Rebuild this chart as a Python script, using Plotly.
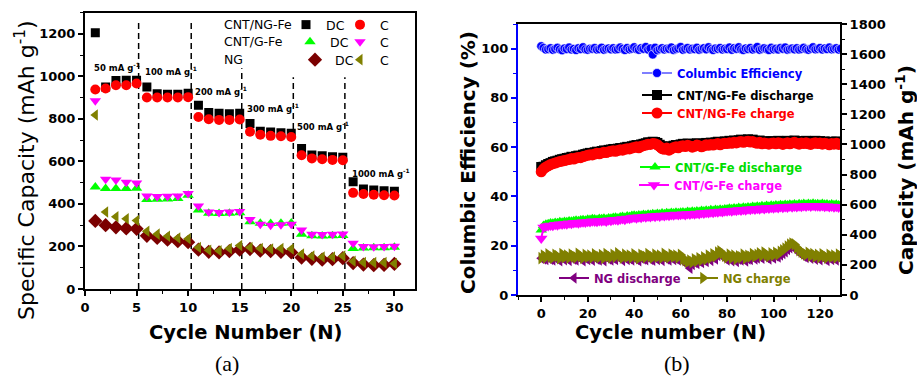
import plotly.graph_objects as go

W, H = 917, 376
SANS = "DejaVu Sans, Liberation Sans, sans-serif"
SERIF = "Liberation Serif, Times New Roman, serif"

# ---------------- Panel (a): rate capability ----------------
cycles_a = list(range(1, 31))
ngfe_dc = [1205, 950, 980, 982, 982, 950, 918, 916, 916, 920, 864, 830, 826, 824, 826,
           778, 742, 738, 735, 732, 661, 630, 626, 622, 620, 504, 470, 465, 462, 460]
ngfe_c = [938, 943, 958, 958, 966, 900, 900, 900, 900, 902, 809, 798, 795, 795, 797,
          739, 725, 720, 718, 715, 629, 614, 610, 607, 605, 452, 447, 443, 441, 440]
gfe_dc = [480, 473, 473, 472, 474, 421, 422, 423, 425, 441, 371, 356, 355, 356, 358,
          316, 309, 308, 309, 310, 257, 250, 249, 250, 252, 191, 193, 194, 194, 196]
gfe_c = [885, 516, 512, 502, 498, 437, 435, 436, 437, 449, 390, 362, 360, 362, 364,
         327, 305, 300, 302, 304, 277, 258, 256, 257, 259, 215, 200, 199, 200, 201]
ng_dc = [320, 300, 290, 285, 283, 250, 240, 232, 225, 220, 185, 175, 172, 178, 185,
         188, 180, 178, 175, 172, 148, 142, 138, 140, 145, 122, 115, 112, 113, 118]
ng_c = [818, 362, 340, 330, 322, 272, 258, 248, 240, 236, 195, 182, 180, 190, 205,
        195, 190, 188, 190, 188, 165, 155, 150, 150, 155, 130, 125, 124, 124, 120]

rate_labels = ["50 mA g<sup>-1</sup>", "100 mA g<sup>-1</sup>", "200 mA g<sup>-1</sup>",
               "300 mA g<sup>-1</sup>", "500 mA g<sup>-1</sup>", "1000 mA g<sup>-1</sup>"]
rate_bounds = [5.2, 10.3, 15.2, 20.2, 25.2]
rate_bound_tops = [1265, 1270, 1038, 996, 996]

# ---------------- Panel (b): long cycling ----------------
cycles_b = list(range(0, 130))
ce = [101.0, 100.3, 99.6, 99.8, 100.2, 99.5, 99.9, 100.4, 99.7, 99.3,
      100.1, 99.8, 100.5, 99.6, 99.9, 99.4, 100.2, 99.8, 100.6, 99.7,
      99.5, 100.0, 99.9, 100.3, 99.6, 99.8, 100.4, 99.5, 99.9, 100.1,
      99.7, 100.2, 99.6, 99.8, 100.5, 99.9, 99.4, 100.3, 99.7, 100.0,
      100.6, 99.8, 99.5, 100.2, 99.9, 100.7, 99.6, 100.1, 97.6, 100.4,
      99.3, 99.8, 100.2, 99.6, 100.0, 99.9, 100.5, 99.4, 99.8, 100.1,
      100.7, 99.5, 99.9, 100.3, 99.6, 100.0, 99.8, 100.4, 99.5, 99.9,
      100.2, 99.7, 100.6, 99.8, 99.4, 100.1, 99.9, 100.3, 99.6, 100.0,
      99.8, 100.5, 99.5, 100.2, 99.9, 100.6, 99.7, 99.4, 100.1, 99.8,
      100.3, 99.6, 100.0, 100.7, 99.5, 99.9, 100.2, 99.8, 99.4, 100.4,
      99.7, 100.0, 99.6, 100.3, 99.9, 100.5, 99.5, 99.8, 100.1, 99.7,
      100.2, 99.6, 99.9, 100.4, 99.8, 99.5, 100.0, 100.6, 99.7, 99.9,
      100.3, 99.6, 100.1, 99.8, 100.5, 99.7, 99.9, 100.2, 99.6, 100.0]
b_ngfe_dis = [850, 852, 862, 870, 876, 884, 888, 892, 898, 902,
              905, 910, 912, 918, 916, 922, 926, 924, 932, 936,
              940, 944, 942, 948, 952, 950, 956, 960, 958, 964,
              966, 970, 966, 972, 976, 974, 980, 984, 982, 988,
              992, 996, 990, 1000, 1004, 1008, 1014, 1012, 1018, 1016,
              1010, 998, 986, 980, 988, 976, 984, 992, 996, 990,
              1000, 1004, 998, 1006, 1002, 994, 1000, 1008, 1004, 996,
              1002, 1010, 1006, 1012, 1008, 1014, 1018, 1010, 1016, 1020,
              1018, 1024, 1020, 1026, 1022, 1028, 1032, 1026, 1030, 1034,
              1028, 1032, 1024, 1020, 1026, 1016, 1022, 1018, 1014, 1020,
              1022, 1016, 1024, 1020, 1012, 1018, 1024, 1016, 1022, 1026,
              1020, 1014, 1022, 1018, 1024, 1016, 1012, 1020, 1024, 1018,
              1022, 1014, 1020, 1016, 1010, 1018, 1014, 1020, 1012, 1016]
b_ngfe_ch = [818, 838, 850, 858, 866, 872, 876, 882, 886, 890,
             893, 897, 900, 906, 903, 910, 914, 912, 920, 924,
             928, 932, 930, 936, 941, 938, 944, 948, 946, 952,
             955, 958, 954, 960, 965, 962, 968, 972, 970, 976,
             980, 984, 978, 988, 992, 996, 1002, 1000, 1006, 1004,
             998, 985, 972, 968, 976, 962, 970, 980, 984, 978,
             988, 992, 986, 994, 990, 982, 988, 996, 992, 984,
             990, 998, 994, 1000, 996, 1002, 1006, 998, 1004, 1008,
             1006, 1012, 1008, 1014, 1010, 1016, 1020, 1014, 1018, 1022,
             1016, 1020, 1012, 1008, 1014, 1004, 1010, 1006, 1002, 1008,
             1010, 1004, 1012, 1008, 1000, 1006, 1012, 1004, 1010, 1014,
             1008, 1002, 1010, 1006, 1012, 1004, 1000, 1008, 1012, 1006,
             1010, 1002, 1008, 1004, 998, 1006, 1002, 1008, 1000, 1004]
b_gfe_dis = [432, 462, 470, 473, 478, 476, 482, 480, 486, 484,
             488, 486, 492, 490, 494, 496, 493, 498, 500, 497,
             503, 501, 506, 504, 502, 508, 506, 510, 505, 512,
             509, 514, 516, 512, 518, 521, 516, 524, 522, 528,
             530, 526, 532, 529, 535, 532, 537, 534, 540, 536,
             542, 538, 544, 540, 546, 543, 548, 545, 550, 547,
             549, 552, 548, 554, 551, 556, 553, 558, 554, 561,
             558, 563, 560, 566, 562, 568, 565, 570, 567, 572,
             572, 576, 573, 578, 575, 581, 577, 583, 579, 585,
             582, 587, 584, 589, 586, 592, 588, 594, 590, 596,
             592, 598, 594, 600, 596, 601, 597, 603, 599, 604,
             600, 606, 602, 607, 603, 608, 604, 609, 605, 606,
             603, 607, 602, 605, 600, 604, 599, 602, 598, 601]
b_gfe_ch = [376, 448, 455, 458, 462, 460, 466, 464, 470, 468,
            472, 470, 476, 474, 478, 480, 477, 482, 484, 481,
            487, 485, 490, 488, 486, 492, 490, 494, 489, 496,
            493, 498, 500, 496, 502, 505, 500, 508, 506, 512,
            514, 510, 516, 513, 519, 516, 521, 518, 524, 520,
            526, 522, 528, 524, 530, 527, 532, 529, 534, 531,
            533, 536, 532, 538, 535, 540, 537, 542, 538, 545,
            542, 547, 544, 550, 546, 552, 549, 554, 551, 556,
            556, 560, 557, 562, 559, 565, 561, 567, 563, 569,
            566, 571, 568, 573, 570, 576, 572, 578, 574, 580,
            576, 582, 578, 584, 580, 585, 581, 587, 583, 588,
            584, 590, 586, 591, 587, 592, 588, 593, 589, 590,
            587, 591, 586, 589, 584, 588, 583, 586, 582, 585]
b_ng_dis = [244, 240, 236, 248, 238, 232, 246, 240, 228, 250,
            234, 242, 230, 248, 238, 232, 252, 240, 228, 246,
            236, 242, 231, 250, 238, 233, 246, 228, 252, 240,
            232, 246, 236, 254, 242, 230, 248, 236, 242, 232,
            250, 238, 228, 246, 240, 234, 252, 238, 231, 248,
            236, 242, 230, 254, 240, 233, 248, 236, 242, 232,
            246, 224, 214, 200, 178, 202, 218, 210, 226, 216,
            232, 222, 244, 230, 250, 240, 262, 270, 258, 244,
            232, 248, 228, 242, 222, 238, 232, 248, 226, 240,
            236, 252, 240, 246, 256, 244, 262, 250, 240, 256,
            246, 260, 252, 266, 276, 288, 302, 314, 322, 316,
            298, 280, 270, 258, 250, 262, 244, 254, 238, 248,
            234, 252, 240, 230, 248, 236, 244, 232, 250, 238]
b_ng_ch = [245, 262, 250, 270, 255, 248, 266, 258, 244, 272,
           252, 262, 248, 268, 256, 250, 274, 258, 246, 266,
           254, 262, 249, 270, 257, 251, 265, 246, 272, 258,
           250, 266, 255, 276, 260, 248, 268, 254, 262, 250,
           270, 256, 245, 266, 259, 252, 272, 257, 249, 268,
           255, 262, 248, 274, 258, 251, 268, 256, 262, 250,
           266, 240, 232, 222, 228, 218, 236, 226, 244, 232,
           250, 238, 262, 248, 270, 258, 282, 290, 276, 262,
           250, 268, 246, 262, 240, 256, 250, 268, 244, 260,
           254, 272, 258, 266, 276, 262, 282, 268, 258, 276,
           264, 280, 270, 286, 296, 308, 322, 334, 342, 336,
           316, 298, 288, 276, 268, 280, 262, 272, 256, 266,
           252, 270, 258, 248, 266, 254, 262, 250, 268, 256]


def px(x):
    return x / W


def py(y):
    return 1 - y / H


fig = go.Figure()

# ---- panel (a) traces, each with its own legend entry ----
a_series = [
    (ngfe_dc, "DC", "square", "#000000", 9, "legend"),
    (ngfe_c, "C", "circle", "#FF0000", 10, "legend2"),
    (gfe_dc, "DC", "triangle-up", "#00FF00", 10, "legend3"),
    (gfe_c, "C", "triangle-down", "#FF00FF", 10, "legend4"),
    (ng_dc, "DC", "diamond", "#7B0000", 11, "legend5"),
    (ng_c, "C", "triangle-left", "#808000", 10, "legend6"),
]
for vals, name, sym, col, size, lg in a_series:
    fig.add_trace(go.Scatter(
        x=cycles_a, y=vals, mode="markers", name=name, legend=lg,
        marker=dict(symbol=sym, color=col, size=size, line=dict(width=0)),
        xaxis="x", yaxis="y"))

# ---- panel (b) traces ----
fig.add_trace(go.Scatter(
    x=cycles_b, y=ce, mode="lines+markers", name="Columbic Efficiency", legend="legend7",
    line=dict(color="#0000FF", width=1.2),
    marker=dict(symbol="circle", color="#0000FF", size=9, line=dict(color="white", width=0.6)),
    xaxis="x2", yaxis="y2"))
b_series = [
    (b_ngfe_dis, "CNT/NG-Fe discharge", "square", "#000000", 10, "legend8"),
    (b_ngfe_ch, "CNT/NG-Fe charge", "circle", "#FF0000", 11, "legend9"),
    (b_gfe_dis, "CNT/G-Fe discharge", "triangle-up", "#00FF00", 10, "legend10"),
    (b_gfe_ch, "CNT/G-Fe charge", "triangle-down", "#FF00FF", 11, "legend11"),
    (b_ng_dis, "NG discharge", "triangle-left", "#800080", 10, "legend12"),
    (b_ng_ch, "NG charge", "triangle-right", "#808000", 11, "legend13"),
]
for vals, name, sym, col, size, lg in b_series:
    fig.add_trace(go.Scatter(
        x=cycles_b, y=vals, mode="lines+markers", name=name, legend=lg,
        line=dict(color=col, width=2),
        marker=dict(symbol=sym, color=col, size=size, line=dict(width=0)),
        xaxis="x2", yaxis="y3"))

# ---- legends placement (symbol centre x, centre y in pixels) ----
legend_pos = {
    "legend": (306, 25, "#000000", 12.5, "normal"),
    "legend2": (360, 25, "#000000", 12.5, "normal"),
    "legend3": (310, 42, "#000000", 12.5, "normal"),
    "legend4": (360, 42, "#000000", 12.5, "normal"),
    "legend5": (315, 60, "#000000", 12.5, "normal"),
    "legend6": (360, 60, "#000000", 12.5, "normal"),
    "legend7": (657, 73, "#0000FF", 11.5, "bold"),
    "legend8": (657, 95, "#000000", 11.5, "bold"),
    "legend9": (657, 113, "#FF0000", 11.5, "bold"),
    "legend10": (655, 167, "#00DD00", 11.5, "bold"),
    "legend11": (654, 185, "#FF00FF", 11.5, "bold"),
    "legend12": (574, 278, "#800080", 11.5, "bold"),
    "legend13": (703, 278, "#808000", 11.5, "bold"),
}
for key, (cx, cy, col, fs, wt) in legend_pos.items():
    fig.update_layout(**{key: dict(
        x=px(cx - 20), y=py(cy), xanchor="left", yanchor="middle",
        xref="paper", yref="paper",
        bgcolor="rgba(0,0,0,0)", borderwidth=0, itemwidth=30,
        font=dict(family=SANS, size=fs, color=col, weight=wt),
        itemclick=False, itemdoubleclick=False)})

# ---- dashed rate boundaries ----
shapes = []
for xb, yt in zip(rate_bounds, rate_bound_tops):
    shapes.append(dict(type="line", xref="x", yref="y", x0=xb, x1=xb, y0=0, y1=yt,
                       line=dict(color="black", width=1.5, dash="6px,4px"), layer="below"))

# ---- annotations ----
ann = []
rate_pos = [(92, 67), (143, 71), (193, 91), (245, 108), (295, 126), (350, 173)]
for txt, (x0, y0) in zip(rate_labels, rate_pos):
    ann.append(dict(text=txt, x=px(x0), y=py(y0), xref="paper", yref="paper",
                    xanchor="left", yanchor="middle", showarrow=False,
                    font=dict(family=SANS, size=8.5, color="black", weight="bold")))
for txt, y0 in [("CNT/NG-Fe", 25), ("CNT/G-Fe", 42), ("NG", 60)]:
    ann.append(dict(text=txt, x=px(222), y=py(y0), xref="paper", yref="paper",
                    xanchor="left", yanchor="middle", showarrow=False,
                    font=dict(family=SANS, size=12.5, color="black")))

titles = [
    ("Specific Capacity (mAh g<sup>-1</sup>)", 25, 170, -90, 22, "normal", SANS),
    ("Cycle Number (N)", 246, 332, 0, 19.5, "bold", SANS),
    ("(a)", 227, 363, 0, 22, "normal", SERIF),
    ("Columbic Efficiency (%)", 468, 163, -90, 20, "bold", SANS),
    ("Capacity (mAh g<sup>-1</sup>)", 905, 170, -90, 20, "bold", SANS),
    ("Cycle number (N)", 670, 332, 0, 19.5, "bold", SANS),
    ("(b)", 677, 363, 0, 22, "normal", SERIF),
]
for txt, x0, y0, ang, fs, wt, fam in titles:
    ann.append(dict(text=txt, x=px(x0), y=py(y0), xref="paper", yref="paper",
                    xanchor="center", yanchor="middle", showarrow=False, textangle=ang,
                    font=dict(family=fam, size=fs, color="black", weight=wt)))

tickfont = dict(family=SANS, size=13, color="black", weight="bold")


def axis(**kw):
    base = dict(showgrid=False, zeroline=False, showline=True, linecolor="black", linewidth=2,
                ticks="outside", ticklen=5, tickwidth=1.5, tickcolor="black",
                tickfont=tickfont, automargin=False)
    base.update(kw)
    return base


fig.update_layout(
    width=W, height=H, margin=dict(l=0, r=0, t=0, b=0),
    template="none", paper_bgcolor="white", plot_bgcolor="white",
    showlegend=True,
    xaxis=axis(domain=[px(85), px(415)], range=[0, 32], anchor="y", mirror=True,
               tick0=0, dtick=5,
               minor=dict(dtick=2.5, ticks="outside", ticklen=3, tickwidth=1.2, tickcolor="black")),
    yaxis=axis(domain=[py(289), py(12.5)], range=[0, 1300], anchor="x", mirror=True,
               tick0=0, dtick=200,
               minor=dict(dtick=100, ticks="outside", ticklen=3, tickwidth=1.2, tickcolor="black")),
    xaxis2=axis(domain=[px(518), px(840)], range=[-10, 128.6], anchor="y2", mirror=True,
                tick0=0, dtick=20,
                minor=dict(dtick=10, ticks="outside", ticklen=3, tickwidth=1.2, tickcolor="black")),
    yaxis2=axis(domain=[py(295), py(24)], range=[0, 110], anchor="x2",
                linecolor="#0000FF", tickcolor="#0000FF", tick0=0, dtick=20,
                minor=dict(dtick=10, ticks="outside", ticklen=3, tickwidth=1.2, tickcolor="#0000FF")),
    yaxis3=axis(range=[0, 1800], anchor="x2", overlaying="y2", side="right",
                tick0=0, dtick=200,
                minor=dict(dtick=100, ticks="outside", ticklen=3, tickwidth=1.2, tickcolor="black")),
    shapes=shapes,
    annotations=ann,
)

fig.write_html("out.html")
